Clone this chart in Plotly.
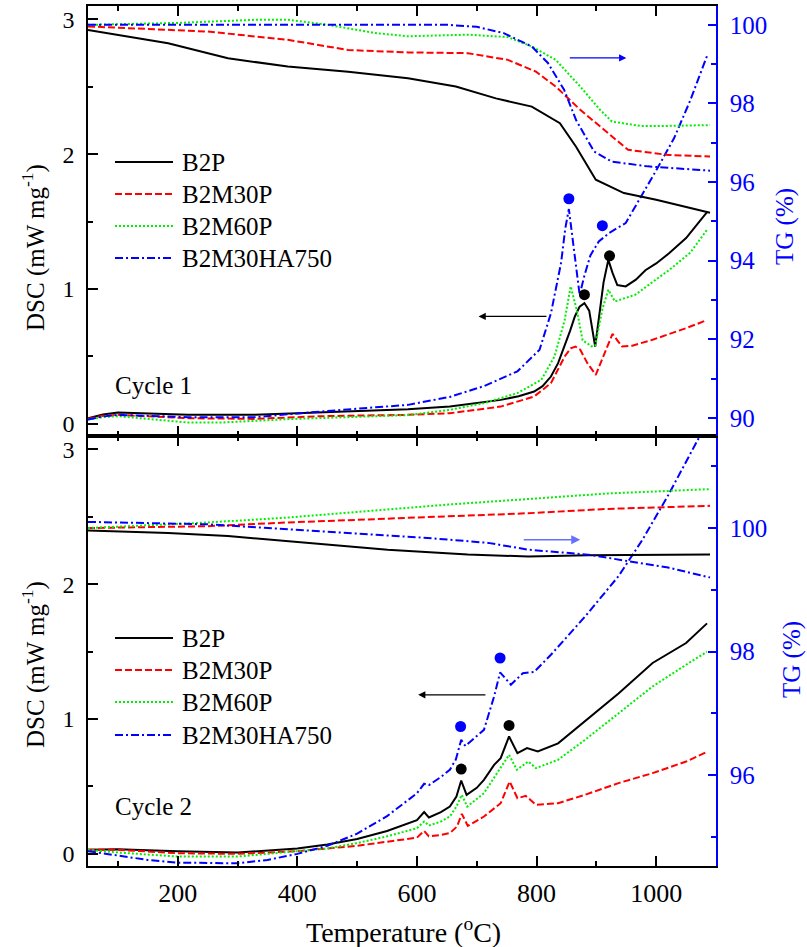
import plotly.graph_objects as go

# ---------------- data ----------------
series = ["B2P", "B2M30P", "B2M60P", "B2M30HA750"]
colors = ["#000000", "#ff0000", "#00ee00", "#0000ff"]
dashes = ["solid", "7px,3px", "2px,2px", "8px,3px,2px,3px"]

# Cycle 1 DSC (mW/mg)
c1_dsc_b2p_T = [50, 75, 100, 150, 217, 329, 440, 585, 655, 700, 740, 770, 796, 810, 824, 836, 847, 856, 864, 872, 880, 888, 898, 905, 912, 920, 927, 935, 949, 966, 982, 1000, 1022, 1050, 1085]
c1_dsc_b2p = [0.042, 0.07, 0.084, 0.078, 0.067, 0.067, 0.084, 0.109, 0.128, 0.155, 0.178, 0.205, 0.24, 0.28, 0.351, 0.45, 0.574, 0.69, 0.797, 0.87, 0.896, 0.84, 0.574, 0.80, 1.05, 1.217, 1.12, 1.03, 1.02, 1.07, 1.14, 1.19, 1.267, 1.378, 1.57]
c1_dsc_m30_T = [50, 75, 100, 217, 329, 440, 585, 655, 740, 796, 824, 847, 857, 865, 873, 885, 899, 912, 927, 935, 943, 960, 994, 1050, 1085]
c1_dsc_m30 = [0.037, 0.06, 0.067, 0.042, 0.037, 0.057, 0.067, 0.079, 0.128, 0.203, 0.302, 0.5, 0.56, 0.574, 0.55, 0.45, 0.364, 0.5, 0.668, 0.62, 0.574, 0.58, 0.624, 0.71, 0.77]
c1_dsc_m60_T = [50, 75, 100, 217, 273, 384, 585, 655, 712, 768, 808, 830, 847, 857, 867, 877, 892, 898, 910, 920, 931, 965, 1022, 1057, 1085]
c1_dsc_m60 = [0.032, 0.05, 0.057, 0.01, 0.01, 0.035, 0.065, 0.104, 0.154, 0.228, 0.327, 0.5, 0.77, 1.02, 0.85, 0.62, 0.575, 0.58, 0.85, 0.995, 0.908, 0.958, 1.143, 1.27, 1.44]
c1_dsc_ha_T = [50, 75, 100, 217, 329, 440, 585, 655, 712, 768, 805, 824, 841, 848, 854, 860, 866, 872, 880, 890, 904, 921, 949, 970, 1000, 1030, 1057, 1085]
c1_dsc_ha = [0.032, 0.055, 0.067, 0.05, 0.05, 0.092, 0.141, 0.20, 0.28, 0.39, 0.55, 0.82, 1.195, 1.45, 1.594, 1.38, 1.15, 0.958, 1.1, 1.25, 1.353, 1.415, 1.49, 1.65, 1.88, 2.12, 2.40, 2.73]

# Cycle 1 TG (%)
c1_tg_b2p_T = [50, 184, 284, 384, 485, 585, 665, 732, 792, 839, 866, 899, 946, 1000, 1090]
c1_tg_b2p = [99.87, 99.53, 99.15, 98.94, 98.81, 98.64, 98.43, 98.13, 97.92, 97.50, 96.90, 96.06, 95.72, 95.55, 95.22]
c1_tg_m30_T = [50, 250, 384, 485, 585, 685, 752, 799, 832, 873, 920, 953, 1020, 1090]
c1_tg_m30 = [99.96, 99.83, 99.62, 99.36, 99.30, 99.28, 99.11, 98.81, 98.43, 97.84, 97.24, 96.82, 96.69, 96.65]
c1_tg_m60_T = [50, 200, 331, 384, 451, 531, 585, 685, 752, 792, 832, 873, 906, 926, 973, 1020, 1090]
c1_tg_m60 = [100.0, 100.05, 100.13, 100.13, 100.0, 99.79, 99.71, 99.75, 99.69, 99.45, 99.11, 98.43, 97.84, 97.54, 97.43, 97.43, 97.45]
c1_tg_ha_T = [50, 200, 400, 652, 700, 745, 792, 819, 846, 866, 896, 926, 986, 1090]
c1_tg_ha = [100.0, 100.0, 100.0, 100.0, 99.95, 99.79, 99.45, 99.03, 98.35, 97.58, 96.78, 96.52, 96.40, 96.29]

# Cycle 2 DSC (mW/mg)
c2_dsc_b2p_T = [50, 100, 200, 300, 400, 450, 500, 550, 600, 612, 620, 640, 655, 666, 674, 683, 700, 712, 729, 740, 754, 768, 784, 802, 836, 881, 937, 994, 1050, 1085]
c2_dsc_b2p = [0.03, 0.035, 0.02, 0.01, 0.04, 0.07, 0.11, 0.17, 0.25, 0.31, 0.27, 0.31, 0.351, 0.425, 0.544, 0.438, 0.49, 0.549, 0.66, 0.71, 0.871, 0.747, 0.785, 0.76, 0.82, 0.982, 1.19, 1.416, 1.564, 1.71]
c2_dsc_m30_T = [50, 100, 200, 300, 400, 450, 500, 550, 600, 612, 620, 640, 655, 667, 675, 685, 712, 740, 755, 768, 782, 799, 836, 881, 937, 994, 1050, 1085]
c2_dsc_m30 = [0.03, 0.03, 0.005, 0.0, 0.02, 0.04, 0.06, 0.09, 0.12, 0.17, 0.13, 0.14, 0.154, 0.203, 0.297, 0.208, 0.277, 0.376, 0.537, 0.413, 0.43, 0.364, 0.376, 0.438, 0.525, 0.599, 0.685, 0.757]
c2_dsc_m60_T = [50, 100, 200, 300, 400, 450, 500, 550, 600, 612, 620, 640, 655, 666, 675, 684, 712, 734, 754, 767, 786, 799, 836, 881, 937, 994, 1050, 1085]
c2_dsc_m60 = [0.03, 0.01, -0.02, -0.02, 0.02, 0.04, 0.08, 0.13, 0.19, 0.24, 0.21, 0.24, 0.277, 0.351, 0.438, 0.351, 0.45, 0.599, 0.735, 0.624, 0.685, 0.636, 0.698, 0.846, 1.045, 1.242, 1.403, 1.50]
c2_dsc_ha_T = [50, 100, 150, 200, 300, 350, 400, 450, 500, 550, 600, 612, 620, 640, 655, 665, 674, 681, 712, 729, 739, 757, 777, 796, 824, 881, 937, 977, 1020, 1073, 1090]
c2_dsc_ha = [0.02, -0.01, -0.045, -0.065, -0.07, -0.045, 0.0, 0.06, 0.15, 0.28, 0.45, 0.52, 0.51, 0.57, 0.624, 0.70, 0.846, 0.80, 0.92, 1.168, 1.346, 1.255, 1.34, 1.35, 1.477, 1.76, 2.06, 2.33, 2.66, 3.10, 3.22]

# Cycle 2 TG (%)
c2_tg_b2p_T = [50, 184, 284, 418, 551, 685, 786, 886, 1090]
c2_tg_b2p = [99.96, 99.92, 99.87, 99.76, 99.65, 99.57, 99.54, 99.56, 99.57]
c2_tg_m30_T = [50, 250, 384, 518, 652, 786, 919, 1090]
c2_tg_m30 = [100.0, 100.03, 100.09, 100.14, 100.19, 100.24, 100.31, 100.36]
c2_tg_m60_T = [50, 250, 384, 518, 652, 786, 919, 1090]
c2_tg_m60 = [100.0, 100.09, 100.17, 100.28, 100.38, 100.47, 100.56, 100.63]
c2_tg_ha_T = [50, 250, 351, 485, 618, 719, 786, 886, 953, 1020, 1090]
c2_tg_ha = [100.10, 100.06, 100.0, 99.92, 99.84, 99.76, 99.65, 99.57, 99.47, 99.36, 99.20]

# peak markers
c1_blue_dots_T = [854, 910]
c1_blue_dots = [1.67, 1.47]
c1_black_dots_T = [880, 922]
c1_black_dots = [0.958, 1.247]
c2_blue_dots_T = [673, 739]
c2_blue_dots = [0.945, 1.453]
c2_black_dots_T = [674, 754]
c2_black_dots = [0.629, 0.953]

x_ticks = [200, 400, 600, 800, 1000]

# ---------------- figure ----------------
FONT = "Liberation Serif, Times New Roman, serif"
W, H = 807, 947
L, R, T, B = 88, 91, 6, 81
PW, PH = W - L - R, H - T - B


def px(xp):
    return (xp - L) / PW


def py(yp):
    return (H - B - yp) / PH


fig = go.Figure()

c1_dsc = [(c1_dsc_b2p_T, c1_dsc_b2p), (c1_dsc_m30_T, c1_dsc_m30), (c1_dsc_m60_T, c1_dsc_m60), (c1_dsc_ha_T, c1_dsc_ha)]
c1_tg = [(c1_tg_b2p_T, c1_tg_b2p), (c1_tg_m30_T, c1_tg_m30), (c1_tg_m60_T, c1_tg_m60), (c1_tg_ha_T, c1_tg_ha)]
c2_dsc = [(c2_dsc_b2p_T, c2_dsc_b2p), (c2_dsc_m30_T, c2_dsc_m30), (c2_dsc_m60_T, c2_dsc_m60), (c2_dsc_ha_T, c2_dsc_ha)]
c2_tg = [(c2_tg_b2p_T, c2_tg_b2p), (c2_tg_m30_T, c2_tg_m30), (c2_tg_m60_T, c2_tg_m60), (c2_tg_ha_T, c2_tg_ha)]

for i, name in enumerate(series):
    ln = dict(color=colors[i], width=2, dash=dashes[i])
    fig.add_trace(go.Scatter(x=c1_tg[i][0], y=c1_tg[i][1], mode="lines", line=ln,
                             xaxis="x2", yaxis="y4", name=name + " TG cycle 1", showlegend=False))
    fig.add_trace(go.Scatter(x=c1_dsc[i][0], y=c1_dsc[i][1], mode="lines", line=ln,
                             xaxis="x2", yaxis="y3", name=name, showlegend=False))
    fig.add_trace(go.Scatter(x=c2_tg[i][0], y=c2_tg[i][1], mode="lines", line=ln,
                             xaxis="x", yaxis="y2", name=name + " TG cycle 2", showlegend=False))
    fig.add_trace(go.Scatter(x=c2_dsc[i][0], y=c2_dsc[i][1], mode="lines", line=ln,
                             xaxis="x", yaxis="y", name=name, showlegend=False))

mk = dict(size=11, line=dict(width=0))
fig.add_trace(go.Scatter(x=c1_blue_dots_T, y=c1_blue_dots, mode="markers", marker=dict(color="#0000ff", **mk),
                         xaxis="x2", yaxis="y3", showlegend=False))
fig.add_trace(go.Scatter(x=c1_black_dots_T, y=c1_black_dots, mode="markers", marker=dict(color="#000000", **mk),
                         xaxis="x2", yaxis="y3", showlegend=False))
fig.add_trace(go.Scatter(x=c2_blue_dots_T, y=c2_blue_dots, mode="markers", marker=dict(color="#0000ff", **mk),
                         xaxis="x", yaxis="y", showlegend=False))
fig.add_trace(go.Scatter(x=c2_black_dots_T, y=c2_black_dots, mode="markers", marker=dict(color="#000000", **mk),
                         xaxis="x", yaxis="y", showlegend=False))

xtickfont = dict(family=FONT, size=26, color="black")
ytickfont = dict(family=FONT, size=24, color="black")
bluefont = dict(family=FONT, size=25, color="#0000ff")

xcommon = dict(range=[50, 1100], tickvals=x_ticks, ticks="inside", ticklen=10, tickwidth=1.5,
               tickcolor="black", showline=True, linecolor="black", linewidth=1.5, mirror="ticks",
               showgrid=False, zeroline=False, tickfont=xtickfont, ticklabelstandoff=3, automargin=False,
               minor=dict(dtick=100, tick0=0, ticks="inside", ticklen=5, tickwidth=1.5, tickcolor="black"))
dsc_common = dict(range=[-0.09, 3.1], tickvals=[0, 1, 2, 3], ticks="inside", ticklen=10, tickwidth=1.5,
                  tickcolor="black", showline=True, linecolor="black", linewidth=1.5, showgrid=False,
                  zeroline=False, tickfont=ytickfont, ticklabelstandoff=7, automargin=False,
                  minor=dict(tickvals=[0.5, 1.5, 2.5], ticks="inside", ticklen=5, tickwidth=1.5, tickcolor="black"))
tg_common = dict(ticks="inside", ticklen=8, tickwidth=1.5, tickcolor="#0000ff", showline=True,
                 linecolor="#0000ff", linewidth=1.5, showgrid=False, zeroline=False, tickfont=bluefont,
                 side="right", ticklabelstandoff=7, automargin=False)

fig.update_layout(
    template="none",
    width=W, height=H, margin=dict(l=L, r=R, t=T, b=B, autoexpand=False),
    paper_bgcolor="white", plot_bgcolor="white", showlegend=False,
    font=dict(family=FONT, size=24, color="black"),
    xaxis=dict(domain=[0, 1], anchor="y", **xcommon),
    xaxis2=dict(domain=[0, 1], anchor="y3", matches="x", showticklabels=False, **xcommon),
    yaxis=dict(domain=[0, 0.5], anchor="x", **dsc_common),
    yaxis2=dict(overlaying="y", anchor="x", range=[94.53, 101.49], tickvals=[96, 98, 100],
                minor=dict(tickvals=[95, 97, 99, 101], ticks="inside", ticklen=5, tickwidth=1.5, tickcolor="#0000ff"),
                **tg_common),
    yaxis3=dict(domain=[0.5, 1], anchor="x2", **dsc_common),
    yaxis4=dict(overlaying="y3", anchor="x2", range=[89.54, 100.48], tickvals=[90, 92, 94, 96, 98, 100],
                minor=dict(tickvals=[91, 93, 95, 97, 99], ticks="inside", ticklen=5, tickwidth=1.5, tickcolor="#0000ff"),
                **tg_common),
)

C = dict(xanchor="center", yanchor="middle", showarrow=False, xref="paper", yref="paper")
ann = []
# axis titles
ann.append(dict(text="DSC (mW mg<sup>-1</sup>)", x=px(33), y=py(248), textangle=-90,
                font=dict(family=FONT, size=25), **C))
ann.append(dict(text="DSC (mW mg<sup>-1</sup>)", x=px(33), y=py(665), textangle=-90,
                font=dict(family=FONT, size=25), **C))
ann.append(dict(text="TG (%)", x=px(785), y=py(227), textangle=-90,
                font=dict(family=FONT, size=25, color="#0000ff"), **C))
ann.append(dict(text="TG (%)", x=px(792), y=py(660), textangle=-90,
                font=dict(family=FONT, size=25, color="#0000ff"), **C))
ann.append(dict(text="Temperature (<sup>o</sup>C)", x=px(403), y=py(930),
                font=dict(family=FONT, size=28), **C))
# cycle labels
ann.append(dict(text="Cycle 1", x=px(113), y=py(385), xref="paper", yref="paper", xanchor="left",
                yanchor="middle", showarrow=False, font=dict(family=FONT, size=25)))
ann.append(dict(text="Cycle 2", x=px(113), y=py(806), xref="paper", yref="paper", xanchor="left",
                yanchor="middle", showarrow=False, font=dict(family=FONT, size=25)))
# arrows
ann.append(dict(x=703, y=0.797, ax=819, ay=0.797, xref="x2", yref="y3", axref="x2", ayref="y3",
                text="", showarrow=True, arrowhead=2, arrowsize=1.2, arrowwidth=1.2, arrowcolor="black"))
ann.append(dict(x=950, y=99.16, ax=853, ay=99.16, xref="x2", yref="y4", axref="x2", ayref="y4",
                text="", showarrow=True, arrowhead=2, arrowsize=1.2, arrowwidth=1.2, arrowcolor="#0000ff"))
ann.append(dict(x=602, y=1.18, ax=717, ay=1.18, xref="x", yref="y", axref="x", ayref="y",
                text="", showarrow=True, arrowhead=2, arrowsize=1.2, arrowwidth=1.2, arrowcolor="black"))
ann.append(dict(x=873, y=99.81, ax=776, ay=99.81, xref="x", yref="y2", axref="x", ayref="y2",
                text="", showarrow=True, arrowhead=2, arrowsize=1.2, arrowwidth=1.5, arrowcolor="#6670ff"))

# manual legends (long line samples as in the original)
shapes = []
legend_rows = [[162, 194, 226, 258], [638, 670, 702, 735]]
for rows in legend_rows:
    for i, name in enumerate(series):
        yy = py(rows[i])
        shapes.append(dict(type="line", xref="paper", yref="paper", x0=px(115), x1=px(173), y0=yy, y1=yy,
                           line=dict(color=colors[i], width=2.2, dash=dashes[i])))
        ann.append(dict(text=name, x=px(180), y=yy, xref="paper", yref="paper", xanchor="left",
                        yanchor="middle", showarrow=False, font=dict(family=FONT, size=25)))

fig.update_layout(annotations=ann, shapes=shapes)
fig.write_html("out.html", config={"displayModeBar": False},
               post_script="document.body.style.margin='0';document.body.style.padding='0';"
                           "document.body.style.overflow='hidden';")
